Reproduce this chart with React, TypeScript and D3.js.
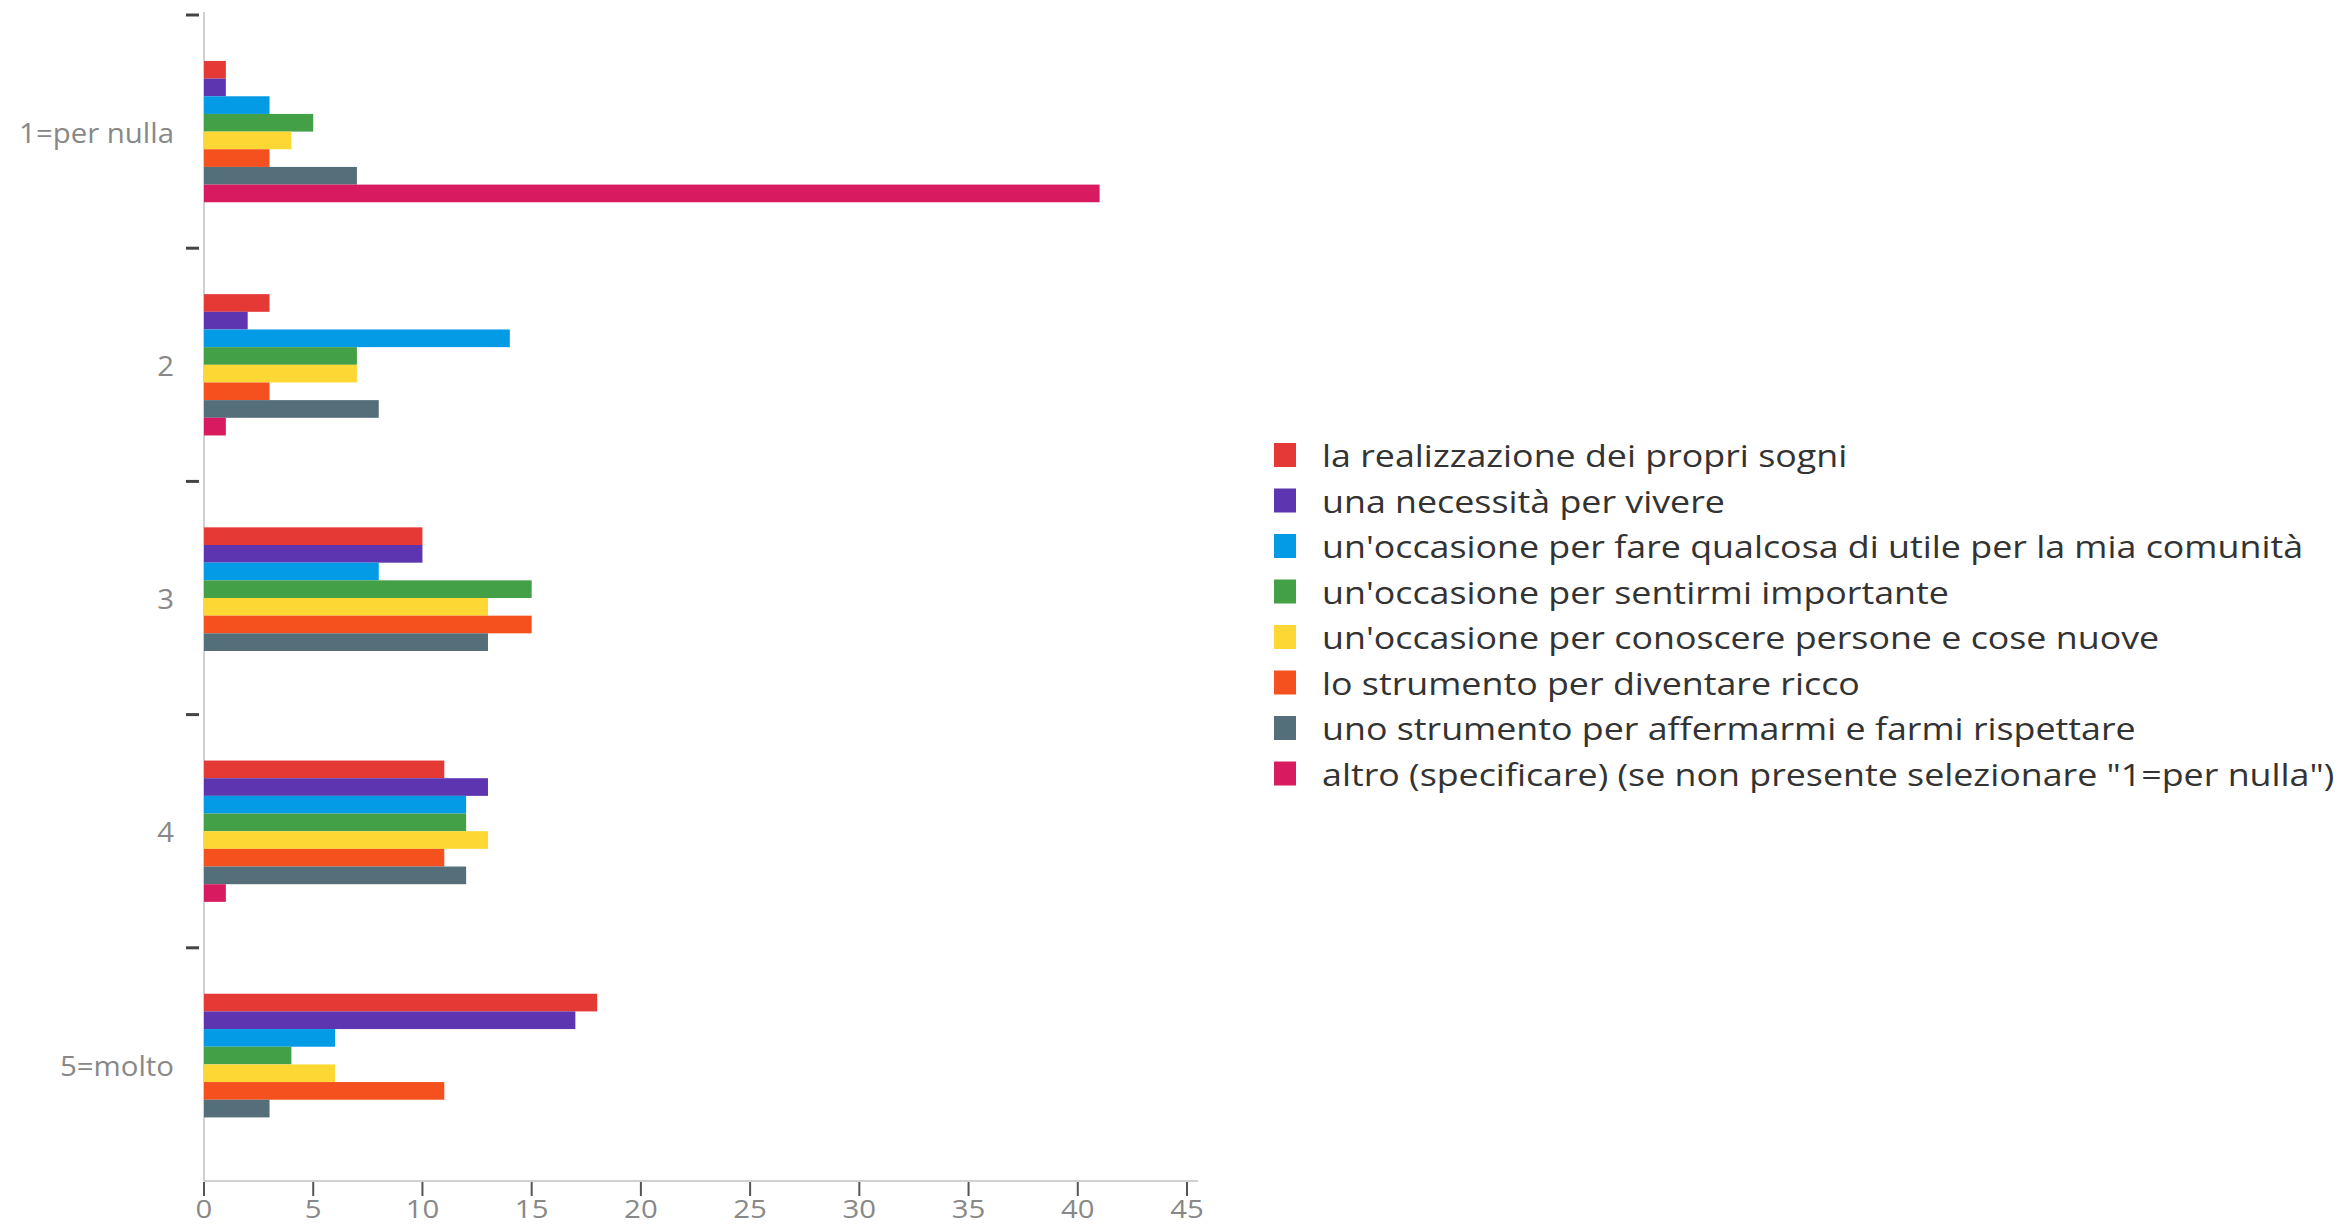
import * as d3 from "d3";

const categories = ["1=per nulla", "2", "3", "4", "5=molto"];

const seriesNames = [
  "la realizzazione dei propri sogni",
  "una necessità per vivere",
  "un'occasione per fare qualcosa di utile per la mia comunità",
  "un'occasione per sentirmi importante",
  "un'occasione per conoscere persone e cose nuove",
  "lo strumento per diventare ricco",
  "uno strumento per affermarmi e farmi rispettare",
  'altro (specificare) (se non presente selezionare "1=per nulla")',
];

const seriesColors = [
  "#e53935",
  "#5e35b1",
  "#039be5",
  "#43a047",
  "#fdd835",
  "#f4511e",
  "#546e7a",
  "#d81b60",
];

// values[series][category]
const realizzazione = [1, 3, 10, 11, 18];
const necessita = [1, 2, 10, 13, 17];
const comunita = [3, 14, 8, 12, 6];
const importante = [5, 7, 15, 12, 4];
const conoscere = [4, 7, 13, 13, 6];
const ricco = [3, 3, 15, 11, 11];
const affermarmi = [7, 8, 13, 12, 3];
const altro = [41, 1, 0, 1, 0];

const seriesValues = [realizzazione, necessita, comunita, importante, conoscere, ricco, affermarmi, altro];

const xTicks = [0, 5, 10, 15, 20, 25, 30, 35, 40, 45];

const WIDTH = 2348;
const HEIGHT = 1228;
const FONT = "'Open Sans', sans-serif";

export default function App() {
  const x = d3.scaleLinear().domain([0, 45]).range([204, 1187]);
  const y = d3.scaleBand<string>().domain(categories).range([15, 1181]).padding(0);
  const bw = y.bandwidth();
  const inner = d3
    .scaleBand<number>()
    .domain(d3.range(seriesNames.length))
    .range([bw * 0.197, bw * 0.803]);

  const legendX = 1274;
  const legendY0 = 455;
  const legendStep = 45.5;

  return (
    <svg width={WIDTH} height={HEIGHT} style={{ position: "absolute", left: 0, top: 0, background: "#fff" }}>
      {/* y axis line + boundary ticks */}
      <line x1={x(0)} x2={x(0)} y1={12} y2={1181} stroke="#d0d0d0" strokeWidth={2} />
      {categories.map((c) => (
        <line key={"t" + c} x1={186} x2={199} y1={y(c)!} y2={y(c)!} stroke="#444" strokeWidth={3} />
      ))}
      {categories.map((c) => (
        <text
          key={"l" + c}
          transform={`translate(174,${y(c)! + bw / 2}) scale(1.05,1)`}
          textAnchor="end"
          dominantBaseline="central"
          fontFamily={FONT}
          fontSize={28}
          fill="#888"
        >
          {c}
        </text>
      ))}

      {/* bars */}
      {categories.map((c, ci) => (
        <g key={"g" + c} transform={`translate(0,${y(c)})`}>
          {seriesValues.map((vals, si) =>
            vals[ci] > 0 ? (
              <rect
                key={si}
                x={x(0)}
                y={inner(si)}
                width={x(vals[ci]) - x(0)}
                height={inner.bandwidth()}
                fill={seriesColors[si]}
              />
            ) : null
          )}
        </g>
      ))}

      {/* x axis */}
      <line x1={x(0)} x2={1198} y1={1181} y2={1181} stroke="#d0d0d0" strokeWidth={2} />
      {xTicks.map((t) => (
        <g key={"x" + t}>
          <line x1={x(t)} x2={x(t)} y1={1182} y2={1196} stroke="#555" strokeWidth={2} />
          <text
            transform={`translate(${x(t)},1218) scale(1.13,1)`}
            textAnchor="middle"
            fontFamily={FONT}
            fontSize={26}
            fill="#888"
          >
            {t}
          </text>
        </g>
      ))}

      {/* legend */}
      {seriesNames.map((name, i) => {
        const cy = legendY0 + i * legendStep;
        return (
          <g key={"lg" + i}>
            <rect x={legendX} y={cy - 12} width={22} height={24} fill={seriesColors[i]} />
            <text
              transform={`translate(1322,${cy}) scale(1.155,1)`}
              dominantBaseline="central"
              fontFamily={FONT}
              fontSize={31}
              fill="#333"
            >
              {name}
            </text>
          </g>
        );
      })}
    </svg>
  );
}
